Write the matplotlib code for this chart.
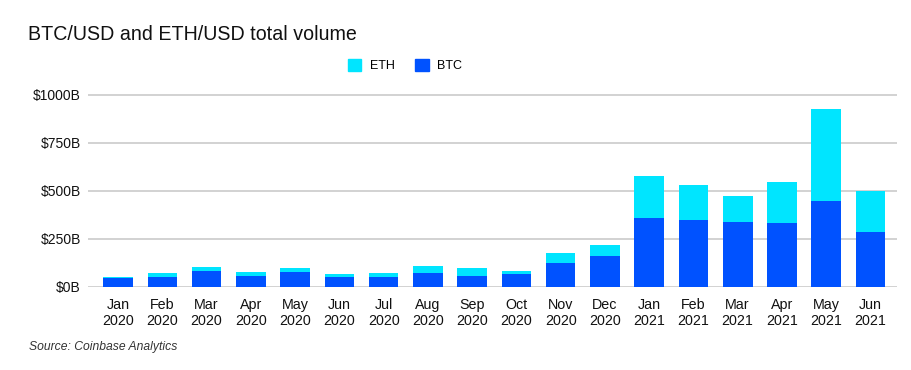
import matplotlib
matplotlib.use("Agg")
import matplotlib.pyplot as plt
import numpy as np
from matplotlib.patches import Patch

months = ["Jan\n2020", "Feb\n2020", "Mar\n2020", "Apr\n2020", "May\n2020", "Jun\n2020",
          "Jul\n2020", "Aug\n2020", "Sep\n2020", "Oct\n2020", "Nov\n2020", "Dec\n2020",
          "Jan\n2021", "Feb\n2021", "Mar\n2021", "Apr\n2021", "May\n2021", "Jun\n2021"]
btc = [43, 48, 81, 56, 75, 51, 51, 69, 56, 65, 121, 159, 358, 345, 337, 330, 446, 285]
total = [51, 72, 103, 77, 96, 65, 72, 108, 96, 82, 173, 216, 575, 530, 471, 543, 925, 498]
eth = [t - b for t, b in zip(total, btc)]
yticks = [0, 250, 500, 750, 1000]
ytick_labels = ["$0B", "$250B", "$500B", "$750B", "$1000B"]

BTC_COLOR = "#0052FF"
ETH_COLOR = "#00E5FF"

plt.rcParams['font.family'] = ['Liberation Sans', 'DejaVu Sans']

W, H = 912, 370
fig = plt.figure(figsize=(W/100, H/100), dpi=100)
fig.patch.set_facecolor("white")

# axes placed in pixel terms
left, right = 88, 897
bottom = 286.5
ymax = 1040
top = bottom - 192 * ymax / 1000
ax = fig.add_axes([left/W, 1 - bottom/H, (right-left)/W, (bottom-top)/H])

x = np.arange(len(months))
ax.bar(x, btc, width=0.67, color=BTC_COLOR, zorder=3)
ax.bar(x, eth, width=0.67, bottom=btc, color=ETH_COLOR, zorder=3)

ax.set_xlim(-0.68, len(months) - 1 + 0.6)
ax.set_ylim(0, ymax)
ax.set_yticks(yticks)
ax.set_yticklabels(ytick_labels, fontsize=10, color="#111111")
ax.set_xticks(x)
ax.set_xticklabels(months, fontsize=10.3, color="#111111", linespacing=1.2)
ax.tick_params(axis="both", length=0)
ax.tick_params(axis="y", pad=5)
ax.tick_params(axis="x", pad=8)
ax.grid(axis="y", color="#cfcfcf", linewidth=1.3, zorder=0)
for s in ax.spines.values():
    s.set_visible(False)

fig.text(28/W, 1 - 39.5/H, "BTC/USD and ETH/USD total volume", fontsize=14.1,
         color="#111111", ha="left", va="baseline")

handles = [Patch(color=ETH_COLOR, label="ETH"), Patch(color=BTC_COLOR, label="BTC")]
fig.legend(handles=handles, loc="center", bbox_to_anchor=(405/W, 1 - 65.5/H), ncol=2,
           frameon=False, fontsize=9, handlelength=1.1, handleheight=1.1,
           handletextpad=0.7, columnspacing=1.6)

fig.text(29/W, 1 - 347/H, "Source: Coinbase Analytics", fontsize=8.7, style="italic",
         color="#333333", ha="left", va="center")

fig.savefig("out.png", dpi=100, facecolor="white")
